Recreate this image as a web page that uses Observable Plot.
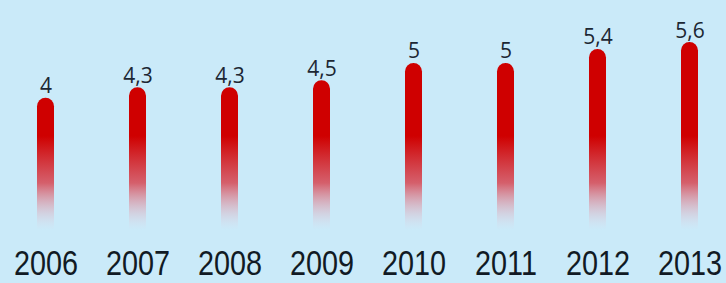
<!DOCTYPE html>
<html><head><meta charset="utf-8">
<script src="https://cdn.jsdelivr.net/npm/d3@7"></script>
<script src="https://cdn.jsdelivr.net/npm/@observablehq/plot@0.6"></script>
<style>
html,body{margin:0;padding:0;background:#caeaf9;}
#chart svg{display:block;}
</style></head><body><div id="chart"></div>
<script>
const years = ["2006","2007","2008","2009","2010","2011","2012","2013"];
const values = [4, 4.3, 4.3, 4.5, 5, 5, 5.4, 5.6];
const valueLabels = ["4","4,3","4,3","4,5","5","5","5,4","5,6"];

const data = years.map((year, i) => ({year, value: values[i], label: valueLabels[i]}));

const chart = Plot.plot({
  width: 726, height: 283,
  marginLeft: 33.5, marginRight: 24.5, marginTop: 42, marginBottom: 46,
  style: {background: "#caeaf9", overflow: "visible"},
  x: {type: "band", domain: years, paddingInner: 0.817, paddingOuter: 0, axis: null},
  y: {domain: [0, 5.6], axis: null},
  marks: [
    Plot.barY(data, {x: "year", y: "value", fill: "url(#barFade)", rx: 8.5}),
    Plot.text(data, {x: "year", y: "value", text: "label", lineAnchor: "bottom", dy: -5,
      fontSize: 21, fontFamily: "Open Sans", fill: "#1c2733"}),
    Plot.text(years, {x: d => d, frameAnchor: "bottom", lineAnchor: "top", dy: 12, text: d => d,
      fontSize: 36, fontFamily: "Liberation Sans", fill: "#111a24", className: "yearlbl"})
  ]
});

const ys = chart.scale("y");
const ns = "http://www.w3.org/2000/svg";
const defs = document.createElementNS(ns, "defs");
defs.innerHTML = `
<linearGradient id="barFade" gradientUnits="userSpaceOnUse" x1="0" x2="0" y1="${ys.apply(2.9)}" y2="${ys.apply(0.2)}">
  <stop offset="0" stop-color="#cf0000" stop-opacity="1"/>
  <stop offset="0.5" stop-color="#d6505c" stop-opacity="0.9"/>
  <stop offset="1" stop-color="#ecc8d8" stop-opacity="0"/>
</linearGradient>`;
chart.insertBefore(defs, chart.firstChild);
// condense the year labels horizontally (narrow humanist look of the original)
chart.querySelectorAll("g.yearlbl text").forEach(t => {
  const tr = t.getAttribute("transform") || "";
  t.setAttribute("transform", tr + " scale(0.8,1)");
});
document.getElementById("chart").appendChild(chart);
</script></body></html>
